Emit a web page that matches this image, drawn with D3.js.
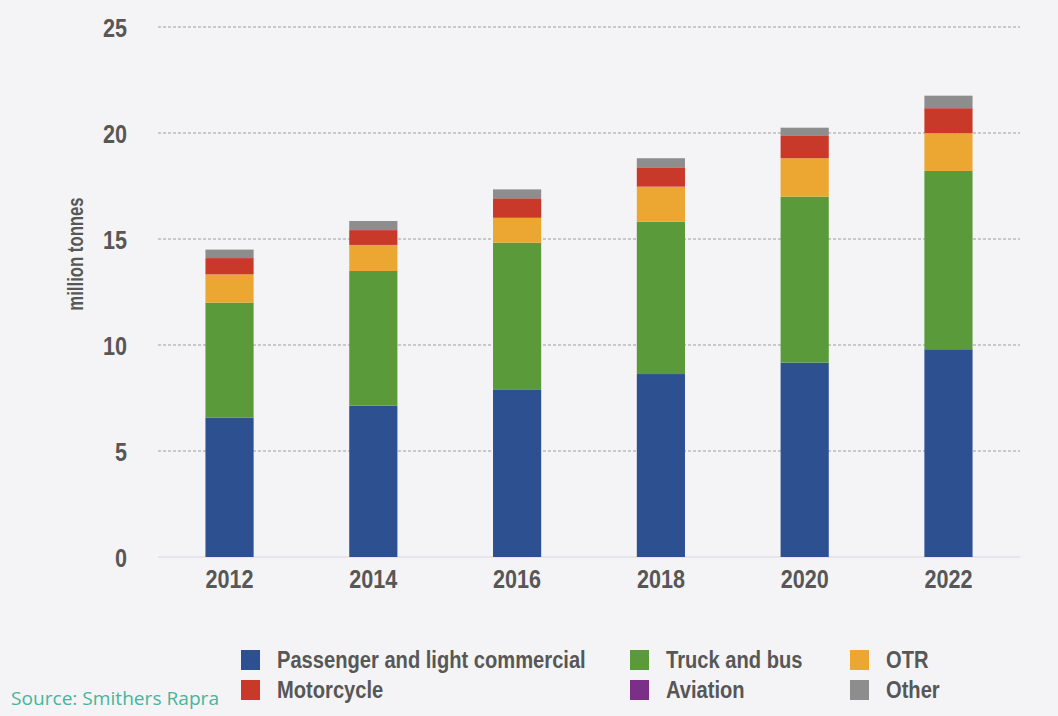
<!DOCTYPE html>
<html>
<head>
<meta charset="utf-8">
<script src="https://cdn.jsdelivr.net/npm/d3@7"></script>
<style>
  html, body { margin: 0; padding: 0; background: #f4f4f6; }
  svg { display: block; }
  .lbl { font-family: "Liberation Sans", Arial, sans-serif; font-weight: bold; fill: #575757; }
</style>
</head>
<body>
<script>
// Tyre material demand by segment, million tonnes
const years = ["2012", "2014", "2016", "2018", "2020", "2022"];
const passenger = [6.58, 7.14, 7.88, 8.63, 9.17, 9.80];
const truckBus  = [5.42, 6.35, 6.95, 7.19, 7.83, 8.41];
const otr       = [1.33, 1.23, 1.17, 1.65, 1.81, 1.78];
const motorcycle= [0.77, 0.70, 0.92, 0.91, 1.05, 1.18];
const aviation  = [0, 0, 0, 0, 0, 0];
const other     = [0.40, 0.43, 0.42, 0.43, 0.39, 0.59];
const yTicks = [0, 5, 10, 15, 20, 25];

const seriesNames = ["Passenger and light commercial", "Truck and bus", "OTR", "Motorcycle", "Aviation", "Other"];
const seriesValues = [passenger, truckBus, otr, motorcycle, aviation, other];
const colors = ["#2d5091", "#5b9a3a", "#eca733", "#c9392a", "#7b2f86", "#8d8d8d"];

const W = 1058, H = 716;
const margin = { left: 158, right: 38, top: 27, bottom: 159 };

const svg = d3.select("body").append("svg").attr("width", W).attr("height", H);

// Squeeze text horizontally to imitate a condensed face
function condense(sel, factor) {
  sel.each(function () {
    const w = this.getComputedTextLength();
    d3.select(this).attr("textLength", w * factor).attr("lengthAdjust", "spacingAndGlyphs");
  });
}

const x = d3.scaleBand().domain(years)
  .range([margin.left, W - margin.right]).paddingInner(0.665).paddingOuter(0.33);
const y = d3.scaleLinear().domain([0, 25]).range([H - margin.bottom, margin.top]);

// Stack the series per year
const rows = years.map((yr, i) => {
  const r = { year: yr };
  seriesNames.forEach((n, k) => r[n] = seriesValues[k][i]);
  return r;
});
const stacked = d3.stack().keys(seriesNames)(rows);

// Dotted gridlines
svg.append("g").selectAll("line").data(yTicks.filter(t => t > 0)).join("line")
  .attr("x1", margin.left).attr("x2", W - margin.right)
  .attr("y1", d => y(d)).attr("y2", d => y(d))
  .attr("stroke", "#b9b9bd").attr("stroke-width", 1.3).attr("stroke-dasharray", "3,2");

// Baseline
svg.append("line")
  .attr("x1", margin.left).attr("x2", W - margin.right)
  .attr("y1", y(0)).attr("y2", y(0))
  .attr("stroke", "#e2e2e6").attr("stroke-width", 1.5);

// Bars
svg.append("g").selectAll("g").data(stacked).join("g")
  .attr("fill", (d, i) => colors[i])
  .selectAll("rect").data(d => d).join("rect")
  .attr("x", d => x(d.data.year))
  .attr("width", x.bandwidth())
  .attr("y", d => y(d[1]))
  .attr("height", d => y(d[0]) - y(d[1]));

// Y axis labels
const yAxis = svg.append("g").attr("transform", `translate(127,0)`)
  .call(d3.axisLeft(y).tickValues(yTicks).tickSize(0).tickPadding(0));
yAxis.select(".domain").remove();
yAxis.selectAll("text").attr("class", "lbl").attr("font-size", 26).attr("dy", "0.36em")
  .call(condense, 0.83);

// X axis labels
const xAxis = svg.append("g").attr("transform", `translate(0,${y(0)})`)
  .call(d3.axisBottom(x).tickSize(0).tickPadding(13));
xAxis.select(".domain").remove();
xAxis.selectAll("text").attr("class", "lbl").attr("font-size", 26).attr("dy", "0.71em")
  .call(condense, 0.83);

// Y axis title
svg.append("text").attr("class", "lbl")
  .attr("transform", `translate(83,254) rotate(-90)`)
  .attr("text-anchor", "middle").attr("font-size", 22)
  .text("million tonnes")
  .call(condense, 0.76);

// Legend
const legendPos = [
  [241, 660], [630, 660], [850, 660],
  [241, 690], [630, 690], [850, 690]
];
const order = [0, 1, 2, 3, 4, 5];
const lg = svg.append("g").selectAll("g").data(order).join("g")
  .attr("transform", d => `translate(${legendPos[d][0]},${legendPos[d][1]})`);
lg.append("rect").attr("x", 0).attr("y", -10).attr("width", 19).attr("height", 20)
  .attr("fill", d => colors[d]);
lg.append("text").attr("class", "lbl").attr("x", 36).attr("y", 0).attr("dy", "0.36em")
  .attr("font-size", 23).text(d => seriesNames[d])
  .call(condense, 0.875);

// Source note
svg.append("text")
  .attr("x", 11).attr("y", 705)
  .attr("font-family", "'Open Sans', 'Noto Sans', sans-serif")
  .attr("font-size", 18).attr("fill", "#47b59a")
  .attr("textLength", 208).attr("lengthAdjust", "spacingAndGlyphs")
  .text("Source: Smithers Rapra");
</script>
</body>
</html>
